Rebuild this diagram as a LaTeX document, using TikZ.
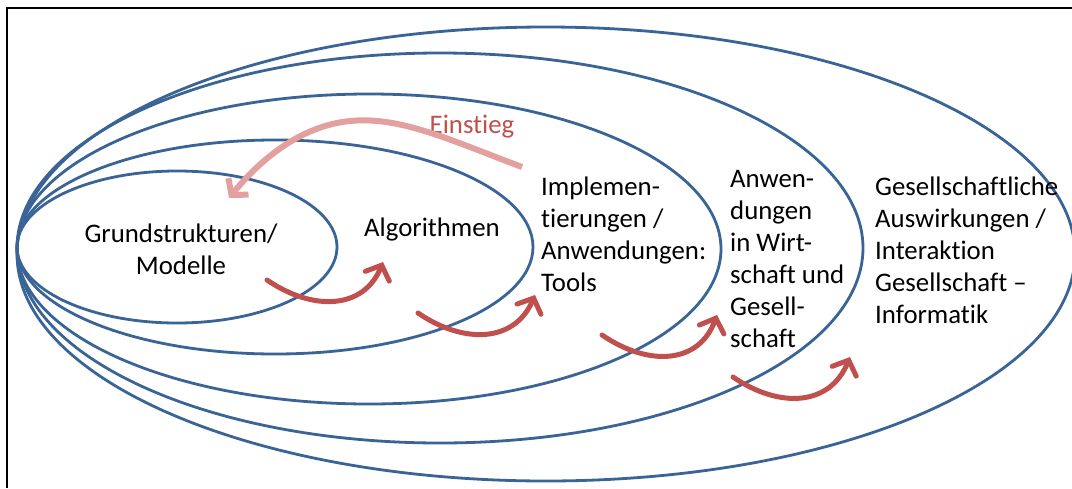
\documentclass[tikz,border=0pt]{standalone}
\usepackage{fontspec}
\setmainfont{Carlito}[Ligatures={NoCommon}]
\usetikzlibrary{arrows.meta}
\definecolor{ellblue}{HTML}{3A6496}
\definecolor{arrred}{HTML}{C0504D}
\definecolor{einpink}{HTML}{E3A09F}
\tikzset{
  ell/.style={draw=ellblue, line width=2.8pt},
  swoosh/.style={draw=arrred, line width=5pt, line cap=round, -{Straight Barb[length=12pt,width=26pt,line cap=round]}},
  entry/.style={draw=einpink, line width=6pt, -{Straight Barb[length=11pt,width=26pt]}},
  txt/.style={font=\fontsize{26.8}{32}\selectfont, inner sep=0pt, align=left},
}
\begin{document}
\begin{tikzpicture}[x=1pt,y=-1pt]
\useasboundingbox (0,0) rectangle (1072,488);
\fill[white] (0,0) rectangle (1072,488);
\draw[line width=1.5pt] (7,488) -- (7,8) -- (1072,8);

% nested ellipses
\draw[ell] (546,254) ellipse [x radius=529, y radius=227];
\draw[ell] (440,248) ellipse [x radius=423, y radius=195];
\draw[ell] (369,249) ellipse [x radius=352, y radius=155];
\draw[ell] (275,247) ellipse [x radius=258, y radius=107];
\draw[ell] (177,247) ellipse [x radius=160, y radius=76];

% texts (base anchor = baseline of last line)
\node[txt, align=center, anchor=base] (grund) at (181,274) {Grundstrukturen/\\Modelle};
\node[txt, anchor=base] (algo) at (432,236) {Algorithmen};
\node[txt, anchor=base west] (impl) at (541,291) {Implemen-\\tierungen /\\Anwendungen:\\Tools};
\node[txt, anchor=base west] (anw) at (730,347) {Anwen-\\dungen\\in Wirt-\\schaft und\\Gesell-\\schaft};
\node[txt, anchor=base west] (ges) at (875,323) {Gesellschaftliche\\Auswirkungen /\\Interaktion\\Gesellschaft --\\Informatik};
\node[txt, text=arrred, anchor=base] (ein) at (472,133) {Einstieg};

% swoosh arrows
\coordinate (a1s) at (267,280); \coordinate (a1e) at (383,262);
\coordinate (a2s) at (418,313); \coordinate (a2e) at (535,295);
\coordinate (a3s) at (602,335); \coordinate (a3e) at (717,315);
\coordinate (a4s) at (733,377); \coordinate (a4e) at (850,357);
\draw[swoosh] (a1s) .. controls (314,312) and (364,309) .. (a1e);
\draw[swoosh] (a2s) .. controls (465,345) and (515,342) .. (a2e);
\draw[swoosh] (a3s) .. controls (649,367) and (699,364) .. (a3e);
\draw[swoosh] (a4s) .. controls (780,409) and (830,406) .. (a4e);

% Einstieg arrow
\coordinate (es) at (522,167); \coordinate (ep) at (350,121); \coordinate (ee) at (229,198);
\draw[entry] (es) .. controls (450,140) and (400,116) .. (ep) .. controls (300,126) and (260,160) .. (ee);
\end{tikzpicture}
\end{document}
